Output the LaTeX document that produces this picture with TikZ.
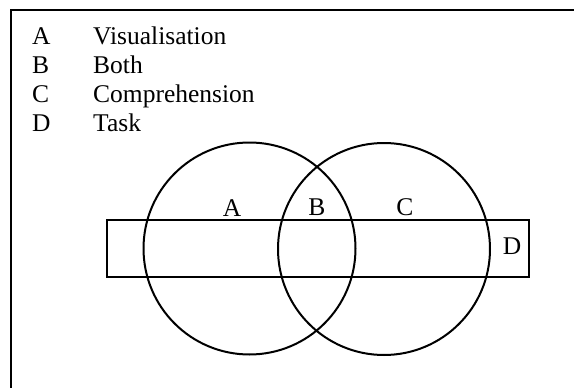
\documentclass[tikz,border=0pt]{standalone}
\usepackage{fontspec}
\setmainfont{Liberation Serif}
\begin{document}
\begin{tikzpicture}[x=1pt,y=-1pt,
  txt/.style={font=\fontsize{25.5}{30}\selectfont, inner sep=0pt},
  legend/.style={txt, anchor=base west},
  setring/.style={circle, draw, line width=2pt, minimum size=212pt, inner sep=0pt},
  taskbox/.style={rectangle, draw, line width=2pt, inner sep=0pt}]
  \useasboundingbox (0,0) rectangle (574,388);
  % outer frame (top and left edges)
  \coordinate (fr) at (574,10);
  \coordinate (fc) at (11,10);
  \coordinate (fb) at (11,388);
  \draw[line width=2.4pt] (fr) -- (fc) -- (fb);

  % key
  \foreach \k/\w [count=\i from 0] in {A/Visualisation, B/Both, C/Comprehension, D/Task} {
    \node[legend] (key\k) at (32,{44+29.3*\i}) {\k};
    \node[legend] (word\k) at (93,{44+29.3*\i}) {\w};
  }

  % task band and the two sets
  \node[taskbox, minimum width=422pt, minimum height=57pt] (task) at (318,248.5) {};
  \node[setring] (vis) at (249.5,248.5) {};
  \node[setring] (comp) at (384,249) {};

  % region labels
  \node[txt] (lA) at (232,208) {A};
  \node[txt] (lB) at (317,207) {B};
  \node[txt] (lC) at (405,207) {C};
  \node[txt] (lD) at (512,246) {D};
\end{tikzpicture}
\end{document}
